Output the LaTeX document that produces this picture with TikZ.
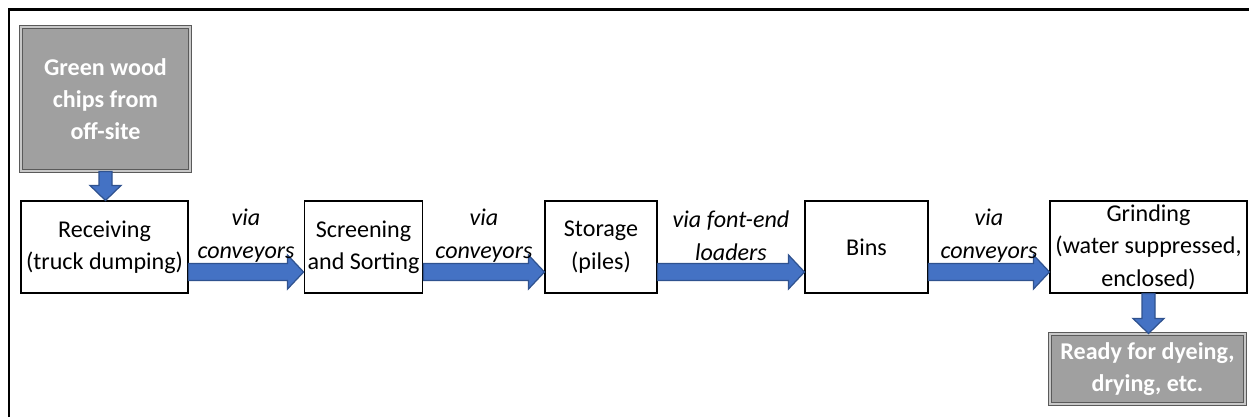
\documentclass[tikz,border=0pt]{standalone}
\usepackage{fontspec}
\setmainfont{Carlito}
\usepackage{xcolor}
\usepackage{tikz}
\usetikzlibrary{calc}
\definecolor{WCblue}{RGB}{68,114,196}
\definecolor{WCblueline}{RGB}{47,82,143}
\definecolor{WCgrey}{RGB}{160,160,160}
\definecolor{WCgreyline}{RGB}{90,90,90}
\definecolor{WCgreygap}{RGB}{200,200,200}
\tikzstyle{sbox}  = [rectangle, draw=black, line width=0.6pt, fill=white,
                     align=center, inner sep=2pt,
                     font=\fontsize{13.7}{18.4}\selectfont]
\tikzstyle{gbox}  = [sbox, fill=WCgrey, draw=WCgreyline, double=WCgreygap,
                     double distance=0.7pt, line width=0.6pt, text=white,
                     font=\fontsize{13.7}{18.2}\selectfont\bfseries]
\tikzstyle{via}   = [align=center, font=\fontsize{13.7}{18.8}\selectfont\itshape]
\tikzstyle{blk}   = [fill=WCblue, draw=WCblueline, line width=0.7pt, line join=miter]
\tikzstyle{frame} = [line width=1.2pt, draw=black]
% horizontal block arrow, 25px under the box centres
\newcommand{\flowarrow}[2]{%
  \coordinate (s) at ($(#1.east)+(0,25)$);
  \coordinate (t) at ($(#2.west)+(0,25)$);
  \draw[blk] ($(s)+(0,-8.5)$) -- ($(t)+(-16,-8.5)$) -- ($(t)+(-16,-17)$) -- (t)
    -- ($(t)+(-16,17)$) -- ($(t)+(-16,8.5)$) -- ($(s)+(0,8.5)$) -- cycle;}
% vertical block arrow
\newcommand{\droparrow}[2]{%
  \coordinate (s) at (#1.south);
  \coordinate (t) at (#1.south |- #2.north);
  \draw[blk] ($(s)+(-6.5,0)$) -- ($(t)+(-6.5,-15)$) -- ($(t)+(-15.5,-15)$) -- (t)
    -- ($(t)+(15.5,-15)$) -- ($(t)+(6.5,-15)$) -- ($(s)+(6.5,0)$) -- cycle;}

\begin{document}
\begin{tikzpicture}[x=0.02cm, y=-0.02cm]
  \useasboundingbox (0,0) rectangle (1249,417);
  \coordinate (fbl) at (9,417);
  \coordinate (ftl) at (9,9.5);
  \coordinate (ftr) at (1249,9.5);
  \draw[frame] (fbl) -- (ftl) -- (ftr);

  \node[gbox, minimum width=3.38cm, minimum height=2.88cm] (chips) at (105.5,99)
       {Green wood\\chips from\\off-site};
  \node[sbox, minimum width=3.34cm, minimum height=1.84cm] (recv) at (104.5,247)
       {Receiving\\(truck dumping)};
  \node[sbox, minimum width=2.30cm, minimum height=1.84cm] (screen) at (363.5,247)
       {Screening\\and Sorting};
  \node[sbox, minimum width=2.24cm, minimum height=1.84cm] (store) at (601,247)
       {Storage\\(piles)};
  \node[sbox, minimum width=2.46cm, minimum height=1.84cm] (bins) at (866.5,247)
       {Bins};
  \node[sbox, minimum width=3.94cm, minimum height=1.84cm] (grind) at (1148.5,247)
       {Grinding\\(water suppressed,\\enclosed)};
  \node[gbox, minimum width=3.90cm, minimum height=1.40cm] (ready) at (1147.5,369)
       {Ready for dyeing,\\drying, etc.};

  \droparrow{chips}{recv}
  \flowarrow{recv}{screen}
  \flowarrow{screen}{store}
  \flowarrow{store}{bins}
  \flowarrow{bins}{grind}
  \droparrow{grind}{ready}

  \node[via] (l1) at ($(recv.east)!.5!(screen.west)+(0,-11)$) {via\\conveyors};
  \node[via] (l2) at ($(screen.east)!.5!(store.west)+(0,-11)$) {via\\conveyors};
  \node[via] (l3) at ($(store.east)!.5!(bins.west)+(0,-11)$) {via font-end\\loaders};
  \node[via] (l4) at ($(bins.east)!.5!(grind.west)+(0,-11)$) {via\\conveyors};
\end{tikzpicture}
\end{document}
